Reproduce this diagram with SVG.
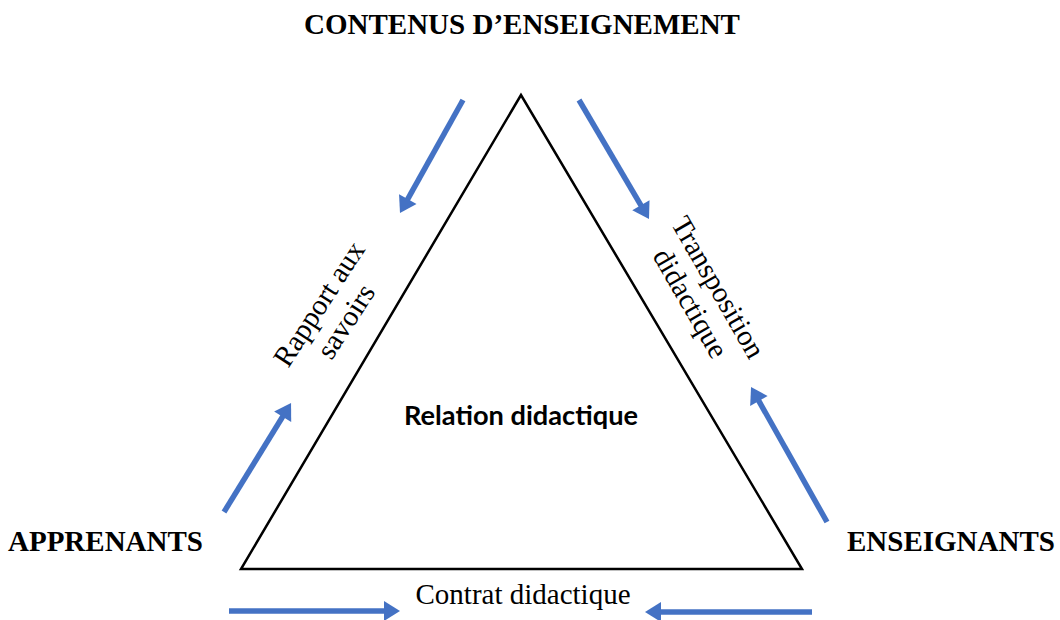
<svg xmlns="http://www.w3.org/2000/svg" width="1060" height="620" viewBox="0 0 1060 620">
  <style>
    .pole { font-family: "Liberation Serif", "Times New Roman", serif; font-weight: bold; font-size: 29px; fill: #000; }
    .rel { font-family: "Liberation Serif", "Times New Roman", serif; font-size: 29px; fill: #000; }
    .center { font-family: "Lato", "Liberation Sans", sans-serif; font-weight: bold; font-size: 27px; fill: #000; }
    .flow { stroke: #4472C4; stroke-width: 5.5; fill: none; marker-end: url(#head); }
    .tri { fill: #fff; stroke: #000; stroke-width: 2.5; stroke-linejoin: miter; }
  </style>
  <defs>
    <marker id="head" markerUnits="userSpaceOnUse" markerWidth="17" markerHeight="20" refX="1" refY="10" orient="auto" overflow="visible">
      <path d="M0,0 L16,10 L0,20 Z" fill="#4472C4"/>
    </marker>
  </defs>
  <rect width="1060" height="620" fill="#fff"/>

  <!-- didactic triangle -->
  <g id="triangle">
    <polygon class="tri" points="521,95 241,569 802,569"/>
    <text class="center" x="521" y="425" text-anchor="middle" textLength="234" lengthAdjust="spacingAndGlyphs">Relation didactique</text>
  </g>

  <!-- the three poles -->
  <g id="contenus">
    <text class="pole" x="522" y="34" text-anchor="middle">CONTENUS D’ENSEIGNEMENT</text>
  </g>
  <g id="apprenants">
    <text class="pole" x="8" y="551">APPRENANTS</text>
  </g>
  <g id="enseignants">
    <text class="pole" x="847" y="551">ENSEIGNANTS</text>
  </g>

  <!-- relations along the sides -->
  <g id="rapport" transform="translate(327,309) rotate(-57)">
    <text class="rel" x="0" y="0" text-anchor="middle">Rapport aux</text>
    <text class="rel" x="0" y="32" text-anchor="middle">savoirs</text>
  </g>
  <g id="transposition" transform="translate(710,292) rotate(60)">
    <text class="rel" x="0" y="0" text-anchor="middle">Transposition</text>
    <text class="rel" x="0" y="32" text-anchor="middle">didactique</text>
  </g>
  <g id="contrat">
    <text class="rel" x="523" y="604" text-anchor="middle">Contrat didactique</text>
  </g>

  <!-- blue flow arrows -->
  <g id="connectors">
    <line class="flow" x1="463" y1="100" x2="407.3" y2="199.9"/>
    <line class="flow" x1="579" y1="100" x2="641.4" y2="206.1"/>
    <line class="flow" x1="224" y1="512" x2="283.2" y2="415.8"/>
    <line class="flow" x1="827" y1="522" x2="758.4" y2="400.1"/>
    <line class="flow" x1="229" y1="611" x2="385" y2="611"/>
    <line class="flow" x1="812" y1="612" x2="660" y2="612"/>
  </g>
</svg>
